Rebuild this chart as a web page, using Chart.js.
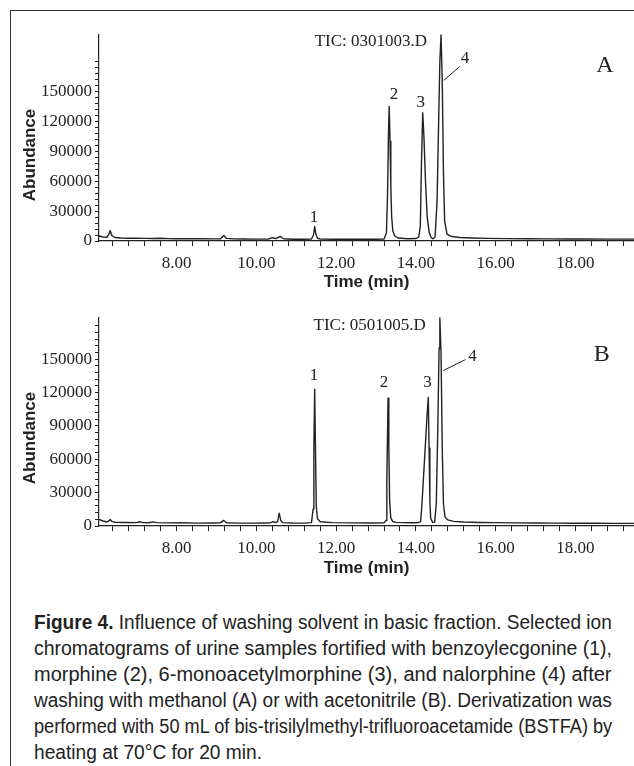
<!DOCTYPE html>
<html><head><meta charset="utf-8">
<script src="https://cdn.jsdelivr.net/npm/chart.js@4.4.1/dist/chart.umd.min.js"></script>
<style>
html,body{margin:0;padding:0;background:#fff;}
body{width:634px;height:766px;position:relative;overflow:hidden;}
#frame{position:absolute;left:10px;top:10px;width:700px;height:800px;border:1.6px solid #333;box-sizing:border-box;}
.panel{position:absolute;left:0;width:634px;}
#pA{top:0;height:300px;}
#pB{top:300px;height:290px;}
#caption{position:absolute;left:34px;top:609px;width:578px;font-family:"Liberation Sans",Arial,sans-serif;font-size:19.5px;color:#222;}
#caption .l{height:26px;line-height:26px;white-space:nowrap;}
#caption .l span{display:inline-block;transform-origin:0 50%;}
</style></head>
<body>
<div id="frame"></div>
<div class="panel" id="pA"><canvas id="cA"></canvas></div>
<div class="panel" id="pB"><canvas id="cB"></canvas></div>
<div id="caption">
<div class="l"><span><b>Figure 4.</b> Influence of washing solvent in basic fraction. Selected ion</span></div>
<div class="l"><span>chromatograms of urine samples fortified with benzoylecgonine (1),</span></div>
<div class="l"><span>morphine (2), 6-monoacetylmorphine (3), and nalorphine (4) after</span></div>
<div class="l"><span>washing with methanol (A) or with acetonitrile (B). Derivatization was</span></div>
<div class="l"><span>performed with 50 mL of bis-trisilylmethyl-trifluoroacetamide (BSTFA) by</span></div>
<div class="l last"><span>heating at 70°C for 20 min.</span></div>
</div>
<script>
// ---- data ----
const timeA = [6.05,6.15,6.25,6.30,6.33,6.37,6.45,6.6,6.8,7.0,7.2,7.4,7.6,7.8,8.0,8.3,8.6,8.9,9.10,9.18,9.25,9.4,9.7,10.0,10.3,10.40,10.48,10.60,10.68,10.9,11.2,11.38,11.43,11.46,11.49,11.53,11.6,11.9,12.3,12.7,13.0,13.2,13.26,13.29,13.31,13.33,13.35,13.37,13.39,13.42,13.47,13.55,13.8,14.0,14.07,14.11,14.14,14.17,14.20,14.24,14.28,14.33,14.38,14.43,14.48,14.53,14.57,14.60,14.63,14.66,14.69,14.72,14.78,14.9,15.1,15.4,15.8,16.3,16.8,17.3,17.8,18.3,18.8,19.47];
const abundanceA = [5000,4000,3800,7000,10500,5500,3500,3000,2800,2700,2600,2500,2700,2400,2300,2400,2200,2100,2300,5500,2600,2200,2000,1900,2000,3300,2300,4500,2200,1800,1800,2000,6000,14500,7000,2800,2000,1800,1800,1700,1800,2000,8000,50000,105000,135000,100000,55000,25000,10000,5000,3000,2300,2500,4000,15000,80000,128500,105000,60000,25000,9000,3500,2200,4000,40000,120000,180000,206500,160000,70000,20000,7000,4500,3500,3000,2600,2400,2200,2100,2000,2000,1900,1900];

const timeB = [6.05,6.15,6.25,6.30,6.33,6.37,6.45,6.7,7.0,7.07,7.15,7.3,7.40,7.5,7.8,8.1,8.5,8.9,9.10,9.17,9.25,9.5,9.9,10.2,10.35,10.42,10.48,10.53,10.57,10.61,10.66,10.9,11.2,11.38,11.42,11.44,11.46,11.48,11.50,11.53,11.6,11.9,12.4,12.9,13.2,13.25,13.27,13.30,13.32,13.34,13.37,13.42,13.5,13.7,13.9,14.05,14.12,14.16,14.20,14.24,14.28,14.31,14.33,14.35,14.37,14.42,14.47,14.51,14.55,14.58,14.60,14.63,14.66,14.69,14.73,14.8,14.95,15.2,15.6,16.0,16.5,17.0,17.5,18.0,18.5,19.0,19.47];
const abundanceB = [6000,4500,3600,4500,5800,4200,3400,3200,3000,3800,3000,2900,3700,3000,2800,2900,2600,2700,2800,5000,2900,2600,2600,2700,2800,4000,3000,4000,11500,5000,3000,2700,2600,3000,15000,70000,123000,70000,18000,6500,3800,3000,2800,2700,2800,5000,40000,115000,70000,22000,7000,4000,3300,3000,2900,3000,4000,25000,50000,75000,100000,115500,70000,22000,7000,3200,3500,20000,90000,160000,187000,155000,70000,20000,8000,5500,4200,3600,3200,3000,2800,2700,2600,2500,2500,2400,2400];

const peakNames = ['1','2','3','4'];
const xTickLabels = ['8.00','10.00','12.00','14.00','16.00','18.00'];
const yTickLabels = ['0','30000','60000','90000','120000','150000'];
const panelNames = ['A','B'];
const ticTitles = ['TIC: 0301003.D','TIC: 0501005.D'];

// ---- axis helpers ----
const X_MIN = 6.05, X_MAX = 19.47, X_MINOR = 0.4, Y_MINOR = 6000, Y_MINOR_TOP = 180000;
const xMajors = xTickLabels.map(Number);
const yMajors = yTickLabels.map(Number);
const xTickVals = []; for (let v = 6.4; v < X_MAX; v += X_MINOR) xTickVals.push(Math.round(v*10)/10);
const yTickVals = []; for (let v = 0; v <= Y_MINOR_TOP; v += Y_MINOR) yTickVals.push(v);

const INK = '#222';
const serif = '"Liberation Serif","Times New Roman",serif';
const sans = '"Liberation Sans",Arial,sans-serif';

const annotate = {
  id: 'annotate',
  afterDatasetsDraw(chart, args, o) {
    const {ctx, scales: {x, y}, chartArea} = chart;
    ctx.save();
    ctx.fillStyle = INK; ctx.strokeStyle = INK;
    ctx.textAlign = 'center'; ctx.textBaseline = 'middle';
    for (const t of o.texts) {
      ctx.font = t.size + 'px ' + serif;
      ctx.fillText(t.text, x.getPixelForValue(t.x), y.getPixelForValue(t.y));
    }
    const L = o.leader;
    ctx.lineWidth = 1;
    ctx.beginPath();
    ctx.moveTo(x.getPixelForValue(L[0]), y.getPixelForValue(L[1]));
    ctx.lineTo(x.getPixelForValue(L[2]), y.getPixelForValue(L[3]));
    ctx.stroke();
    ctx.font = 'bold 17px ' + sans;
    ctx.translate(30, chartArea.top + 120);
    ctx.rotate(-Math.PI / 2);
    ctx.fillText(o.yTitle, 0, 0);
    ctx.restore();
  }
};

function makeChart(id, times, values, yMax, padTop, xHeight, titlePad, texts, leader) {
  return new Chart(document.getElementById(id), {
    type: 'scatter',
    data: { datasets: [{
      data: times.map((t, i) => ({x: t, y: values[i]})),
      showLine: true, pointRadius: 0, borderColor: INK, borderWidth: 1.4, tension: 0, clip: 6,
      borderJoinStyle: 'round'
    }]},
    plugins: [annotate],
    options: {
      responsive: true, maintainAspectRatio: false, animation: false,
      layout: { padding: { top: padTop, left: 0, right: 0, bottom: 0 } },
      plugins: { legend: { display: false }, tooltip: { enabled: false },
        annotate: { texts, leader, yTitle: 'Abundance' } },
      scales: {
        x: {
          type: 'linear', min: X_MIN, max: X_MAX,
          afterBuildTicks: s => { s.ticks = xTickVals.map(v => ({value: v})); },
          afterFit: s => { s.height = xHeight; },
          ticks: { autoSkip: false, maxRotation: 0, padding: 7, color: INK,
            font: { family: serif, size: 17 },
            callback: v => { const i = xMajors.findIndex(m => Math.abs(m - v) < 1e-6); return i >= 0 ? xTickLabels[i] : ''; } },
          grid: { drawOnChartArea: false, drawTicks: true, tickLength: 5, color: INK, lineWidth: 1 },
          border: { display: true, color: INK, width: 1.2 },
          title: { display: true, text: 'Time (min)', color: INK,
            font: { family: sans, size: 17, weight: 'bold' }, padding: { top: 0, bottom: titlePad } }
        },
        y: {
          type: 'linear', min: 0, max: yMax,
          afterBuildTicks: s => { s.ticks = yTickVals.map(v => ({value: v})); },
          afterFit: s => { s.width = 99; },
          ticks: { autoSkip: false, padding: 3, color: INK, font: { family: serif, size: 17 },
            callback: v => { const i = yMajors.indexOf(v); return i >= 0 ? yTickLabels[i] : ''; } },
          grid: { drawOnChartArea: false, drawTicks: true, tickLength: 4, color: INK, lineWidth: 1 },
          border: { display: true, color: INK, width: 1.2 }
        }
      }
    }
  });
}

makeChart('cA', timeA, abundanceA, 206500, 35, 59, 7, [
  {text: ticTitles[0], x: 12.87, y: 200000, size: 17},
  {text: panelNames[0], x: 18.74, y: 176000, size: 24},
  {text: peakNames[0], x: 11.44, y: 23600, size: 17},
  {text: peakNames[1], x: 13.45, y: 147000, size: 17},
  {text: peakNames[2], x: 14.12, y: 139000, size: 17},
  {text: peakNames[3], x: 15.23, y: 183000, size: 17}
], [15.10, 175000, 14.70, 161000]);

makeChart('cB', timeB, abundanceB, 187000, 18, 64, 11, [
  {text: ticTitles[1], x: 12.84, y: 180100, size: 17},
  {text: panelNames[1], x: 18.66, y: 154000, size: 24},
  {text: peakNames[0], x: 11.44, y: 135200, size: 17},
  {text: peakNames[1], x: 13.20, y: 128900, size: 17},
  {text: peakNames[2], x: 14.29, y: 128900, size: 17},
  {text: peakNames[3], x: 15.42, y: 152500, size: 17}
], [15.24, 149600, 14.68, 139700]);

// fit caption lines to the column width
function fitCaption() {
  const W = 578;
  const spans = [...document.querySelectorAll('#caption .l span')];
  const scales = spans.map(s => W / s.offsetWidth);
  const full = scales.slice(0, -1);
  const avg = full.reduce((a, b) => a + b, 0) / full.length;
  spans.forEach((s, i) => {
    const k = i < spans.length - 1 ? scales[i] : avg;
    s.style.transform = 'scaleX(' + k + ')';
  });
}
fitCaption();
if (document.fonts && document.fonts.ready) document.fonts.ready.then(fitCaption);
</script>
</body></html>
